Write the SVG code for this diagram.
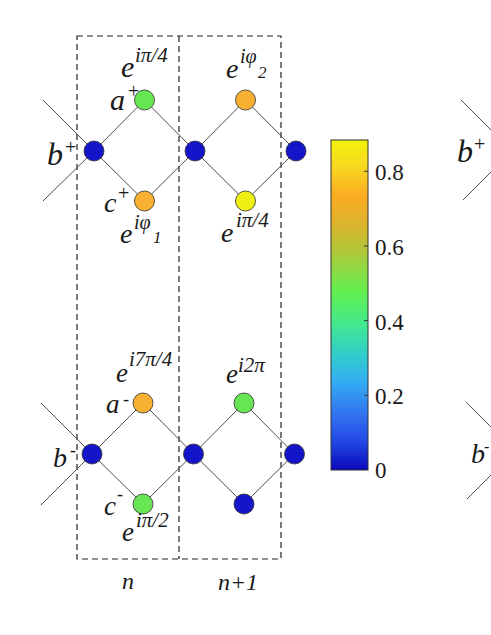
<svg xmlns="http://www.w3.org/2000/svg" width="491" height="635" viewBox="0 0 491 635" font-family="'Liberation Serif', 'DejaVu Serif', serif">
<defs>
<style>
.bond{stroke:#505050;stroke-width:1;fill:none}
.cell{stroke:#222;stroke-width:1.2;fill:none;stroke-dasharray:6 4}
.site{stroke:#303030;stroke-width:0.8}
.blue{fill:#1414c8}
.green{fill:#66e652}
.orange{fill:#f8b032}
.yellow{fill:#eef014}
.lbl{font-family:'Liberation Serif','DejaVu Serif',serif;fill:#1a1a1a}
.it{font-style:italic}
.up{font-style:normal}
.tick{font-size:23px;font-family:'Liberation Serif','DejaVu Serif',serif;fill:#1a1a1a}
</style>
<linearGradient id="cmap" x1="0" y1="0" x2="0" y2="1">
<stop offset="0" stop-color="#f2f20e"/>
<stop offset="0.08" stop-color="#f8d820"/>
<stop offset="0.17" stop-color="#fbab22"/>
<stop offset="0.26" stop-color="#d9b52d"/>
<stop offset="0.34" stop-color="#b0c83a"/>
<stop offset="0.46" stop-color="#62f04f"/>
<stop offset="0.56" stop-color="#42e890"/>
<stop offset="0.66" stop-color="#30cad0"/>
<stop offset="0.73" stop-color="#33aef2"/>
<stop offset="0.83" stop-color="#3274f0"/>
<stop offset="0.92" stop-color="#2244e2"/>
<stop offset="1" stop-color="#0808b8"/>
</linearGradient>
</defs>
<rect width="491" height="635" fill="#fff"/>

<g id="unit-cells">
<rect class="cell" x="77" y="36" width="204" height="523"/>
<line class="cell" x1="179" y1="36" x2="179" y2="559"/>
</g>

<g id="connectors">
<line class="bond" x1="43" y1="100" x2="94" y2="151"/>
<line class="bond" x1="43" y1="201" x2="94" y2="151"/>
<line class="bond" x1="94" y1="151" x2="144.5" y2="100"/>
<line class="bond" x1="144.5" y1="100" x2="195" y2="151"/>
<line class="bond" x1="94" y1="151" x2="144.5" y2="201"/>
<line class="bond" x1="144.5" y1="201" x2="195" y2="151"/>
<line class="bond" x1="195" y1="151" x2="245.5" y2="100"/>
<line class="bond" x1="245.5" y1="100" x2="296" y2="151"/>
<line class="bond" x1="195" y1="151" x2="245.5" y2="201"/>
<line class="bond" x1="245.5" y1="201" x2="296" y2="151"/>
<line class="bond" x1="41" y1="403" x2="92" y2="454"/>
<line class="bond" x1="41" y1="505" x2="92" y2="454"/>
<line class="bond" x1="92" y1="454" x2="143" y2="403"/>
<line class="bond" x1="143" y1="403" x2="193.5" y2="454"/>
<line class="bond" x1="92" y1="454" x2="143" y2="504"/>
<line class="bond" x1="143" y1="504" x2="193.5" y2="454"/>
<line class="bond" x1="193.5" y1="454" x2="244" y2="403"/>
<line class="bond" x1="244" y1="403" x2="294.5" y2="454"/>
<line class="bond" x1="193.5" y1="454" x2="244" y2="504"/>
<line class="bond" x1="244" y1="504" x2="294.5" y2="454"/>
<line class="bond" x1="461" y1="100" x2="491" y2="130"/>
<line class="bond" x1="463" y1="200" x2="491" y2="172"/>
<line class="bond" x1="466" y1="402" x2="491" y2="427"/>
<line class="bond" x1="467" y1="499" x2="491" y2="475"/>
</g>

<g id="node-b1-plus"><circle class="site blue" cx="94" cy="151" r="10"/></g>
<g id="node-a1-plus"><circle class="site green" cx="144.5" cy="100" r="10"/></g>
<g id="node-c1-plus"><circle class="site orange" cx="144.5" cy="201" r="10"/></g>
<g id="node-b2-plus"><circle class="site blue" cx="195" cy="151" r="10"/></g>
<g id="node-a2-plus"><circle class="site orange" cx="245.5" cy="100" r="10"/></g>
<g id="node-c2-plus"><circle class="site yellow" cx="245.5" cy="201" r="10"/></g>
<g id="node-b3-plus"><circle class="site blue" cx="296" cy="151" r="10"/></g>

<g id="node-b1-minus"><circle class="site blue" cx="92" cy="454" r="10"/></g>
<g id="node-a1-minus"><circle class="site orange" cx="143" cy="403" r="10"/></g>
<g id="node-c1-minus"><circle class="site green" cx="143" cy="504" r="10"/></g>
<g id="node-b2-minus"><circle class="site blue" cx="193.5" cy="454" r="10"/></g>
<g id="node-a2-minus"><circle class="site green" cx="244" cy="403" r="10"/></g>
<g id="node-c2-minus"><circle class="site blue" cx="244" cy="504" r="10"/></g>
<g id="node-b3-minus"><circle class="site blue" cx="294.5" cy="454" r="10"/></g>

<g id="labels-upper" class="lbl it">
<text x="121" y="77" font-size="30">e</text><text x="135" y="62" font-size="21">iπ/4</text>
<text x="110" y="110" font-size="30">a</text><text class="up" x="128" y="98" font-size="20">+</text>
<text x="47" y="165" font-size="32">b</text><text class="up" x="65" y="154" font-size="20">+</text>
<text x="104" y="212" font-size="28">c</text><text class="up" x="118" y="200" font-size="20">+</text>
<text x="120" y="243" font-size="28">e</text><text x="134" y="229" font-size="20">iφ</text><text x="153" y="243" font-size="17">1</text>
<text x="226" y="78" font-size="28">e</text><text x="240" y="63" font-size="20">iφ</text><text x="258" y="78" font-size="17">2</text>
<text x="221" y="242" font-size="28">e</text><text x="236" y="227" font-size="21">iπ/4</text>
</g>

<g id="labels-lower" class="lbl it">
<text x="116" y="382" font-size="27">e</text><text x="129" y="366" font-size="21">i7π/4</text>
<text x="106" y="413" font-size="27">a</text><text class="up" x="123" y="405" font-size="18">-</text>
<text x="53" y="467" font-size="28">b</text><text class="up" x="70" y="456" font-size="18">-</text>
<text x="104" y="515" font-size="27">c</text><text class="up" x="117" y="500" font-size="18">-</text>
<text x="122" y="541" font-size="27">e</text><text x="136" y="527" font-size="21">iπ/2</text>
<text x="226" y="383" font-size="27">e</text><text x="238" y="372" font-size="21">i2π</text>
</g>

<g id="labels-cells" class="lbl it">
<text x="128" y="589" font-size="24" text-anchor="middle">n</text>
<text x="238" y="590" font-size="24" text-anchor="middle">n+1</text>
</g>

<g id="labels-neighbour" class="lbl it">
<text x="457" y="162" font-size="32">b</text><text class="up" x="474" y="151" font-size="20">+</text>
<text x="471" y="463" font-size="28">b</text><text class="up" x="484" y="452" font-size="16">-</text>
</g>

<g id="colorbar">
<rect x="331" y="140" width="37" height="330" fill="url(#cmap)" stroke="#333" stroke-width="1"/>
<g stroke="#333" stroke-width="1">
<line x1="364" y1="171.3" x2="368" y2="171.3"/>
<line x1="364" y1="246" x2="368" y2="246"/>
<line x1="364" y1="320.6" x2="368" y2="320.6"/>
<line x1="364" y1="395.3" x2="368" y2="395.3"/>
</g>
<text class="tick" x="375" y="180">0.8</text>
<text class="tick" x="375" y="255">0.6</text>
<text class="tick" x="375" y="329.5">0.4</text>
<text class="tick" x="375" y="404">0.2</text>
<text class="tick" x="375" y="478">0</text>
</g>
</svg>
